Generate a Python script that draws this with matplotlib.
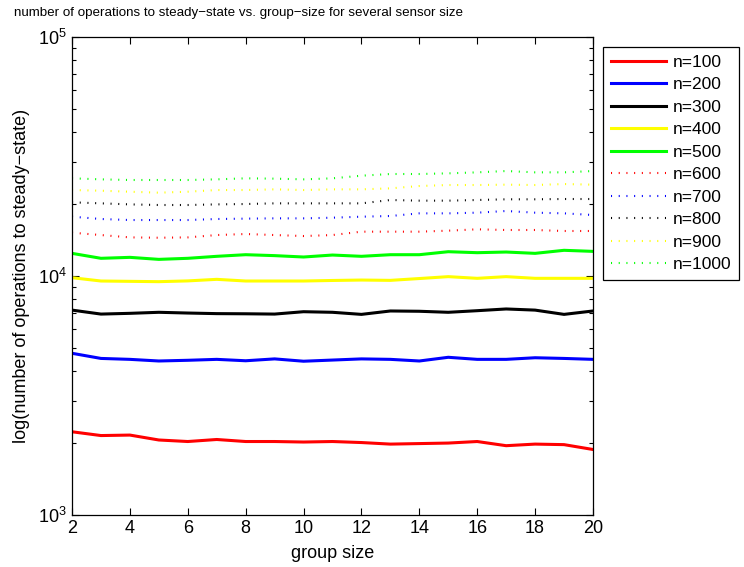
import matplotlib

matplotlib.use("Agg")
import matplotlib.pyplot as plt
from matplotlib.ticker import LogLocator, NullFormatter

plt.rcParams["font.family"] = ["Liberation Sans", "DejaVu Sans"]
plt.rcParams["mathtext.fontset"] = "custom"
plt.rcParams["mathtext.rm"] = "Liberation Sans"
plt.rcParams["mathtext.it"] = "Liberation Sans:italic"

group_size = list(range(2, 21))
labels = ["n=100", "n=200", "n=300", "n=400", "n=500",
          "n=600", "n=700", "n=800", "n=900", "n=1000"]

# operations to steady state, one list per sensor count
ops_100 = [2230, 2150, 2160, 2060, 2030, 2070, 2030, 2030, 2020, 2030,
           2010, 1980, 1990, 2000, 2030, 1950, 1980, 1970, 1880]
ops_200 = [4750, 4520, 4480, 4410, 4440, 4480, 4420, 4500, 4400, 4450,
           4500, 4480, 4410, 4570, 4480, 4480, 4550, 4520, 4480]
ops_300 = [7200, 6930, 6980, 7050, 7000, 6960, 6950, 6930, 7090, 7050,
           6910, 7140, 7120, 7050, 7160, 7280, 7200, 6910, 7140]
ops_400 = [9840, 9530, 9500, 9470, 9540, 9685, 9530, 9530, 9530, 9580,
           9620, 9590, 9760, 9940, 9780, 9940, 9780, 9780, 9780]
ops_500 = [12440, 11860, 11970, 11740, 11860, 12090, 12280, 12170, 12010, 12240,
           12090, 12280, 12280, 12640, 12520, 12600, 12440, 12810, 12680]
ops_600 = [15180, 14840, 14510, 14460, 14510, 14840, 14990, 14840, 14700, 14840,
           15330, 15330, 15330, 15480, 15680, 15580, 15580, 15430, 15430]
ops_700 = [17710, 17320, 17150, 17150, 17150, 17320, 17380, 17430, 17430, 17540,
           17710, 17830, 18290, 18290, 18410, 18710, 18410, 18290, 18000]
ops_800 = [20340, 20140, 19940, 19820, 19820, 19940, 20010, 20140, 20140, 20140,
           20140, 20800, 20670, 20670, 20800, 20940, 20940, 21000, 21000]
ops_900 = [22900, 22750, 22530, 22320, 22530, 22900, 22900, 23050, 22900, 23050,
           23050, 23270, 23800, 24030, 24030, 24110, 24030, 24260, 24110]
ops_1000 = [25630, 25380, 25220, 25220, 25220, 25380, 25630, 25550, 25380, 25630,
            26290, 26720, 26720, 26890, 27150, 27500, 27150, 27150, 27500]

series = [ops_100, ops_200, ops_300, ops_400, ops_500,
          ops_600, ops_700, ops_800, ops_900, ops_1000]
colors = ["#ff0000", "#0000ff", "#000000", "#ffff00", "#00ff00"] * 2

fig = plt.figure(figsize=(7.44, 5.67), dpi=100)
ax = fig.add_axes([0.0968, 0.0917, 0.7002, 0.843])

for i, (vals, lab) in enumerate(zip(series, labels)):
    if i < 5:
        ax.plot(group_size, vals, color=colors[i], lw=2.2, label=lab)
    else:
        ax.plot(group_size, vals, color=colors[i], lw=1.5,
                linestyle=(0, (0.5, 3.2)), label=lab)

ax.set_yscale("log")
ax.set_xlim(2, 20)
ax.set_ylim(1e3, 1e5)
ax.set_xticks(range(2, 21, 2))
ax.yaxis.set_minor_locator(LogLocator(base=10, subs=range(2, 10)))
ax.yaxis.set_minor_formatter(NullFormatter())
ax.tick_params(which="both", direction="in", top=True, right=True,
               labelsize=13, width=0.8)
ax.tick_params(which="major", length=5)
ax.tick_params(which="minor", length=3)
for s in ax.spines.values():
    s.set_linewidth(0.9)

ax.set_xlabel("group size", fontsize=13, labelpad=6)
ax.set_ylabel("log(number of operations to steady\u2212state)", fontsize=13, labelpad=6)
fig.text(0.019, 1 - 13 / 567,
         "number of operations to steady\u2212state vs. group\u2212size for several sensor size",
         fontsize=9.6, ha="left", va="center")

leg = ax.legend(loc="upper left", bbox_to_anchor=(0.8105, 0.917),
                bbox_transform=fig.transFigure, fontsize=12.5, fancybox=False,
                edgecolor="black", framealpha=1, handlelength=3.2,
                handletextpad=0.35, labelspacing=0.42, borderpad=0.45,
                borderaxespad=0)
leg.get_frame().set_linewidth(0.9)

fig.savefig("out.png", dpi=100)
